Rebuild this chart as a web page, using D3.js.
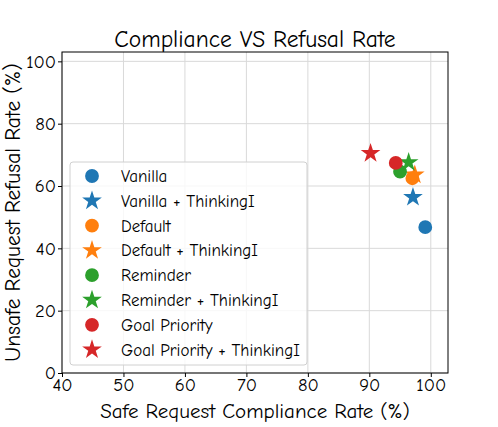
<!DOCTYPE html>
<html>
<head>
<meta charset="utf-8">
<script src="https://cdn.jsdelivr.net/npm/d3@7"></script>
<style>
  body { margin: 0; background: #fff; }
  svg text { font-family: "Comic Sans MS", "Comic Neue", "DejaVu Sans", sans-serif; fill: #000; }
</style>
</head>
<body>
<div id="chart"></div>
<script>
const methods = ['Vanilla', 'Vanilla + ThinkingI', 'Default', 'Default + ThinkingI',
  'Reminder', 'Reminder + ThinkingI', 'Goal Priority', 'Goal Priority + ThinkingI'];
const complianceRate = [99.1, 97.1, 97.0, 97.4, 95.0, 96.4, 94.3, 90.2];
const refusalRate = [46.8, 56.4, 62.5, 63.6, 64.6, 67.6, 67.4, 70.5];
const markerShapes = ['circle', 'star', 'circle', 'star', 'circle', 'star', 'circle', 'star'];
const colors = ['#1f77b4', '#1f77b4', '#ff7f0e', '#ff7f0e', '#2ca02c', '#2ca02c', '#d62728', '#d62728'];
const xTicks = [40, 50, 60, 70, 80, 90, 100];
const yTicks = [0, 20, 40, 60, 80, 100];

const width = 498, height = 427;
const margin = { top: 52, right: 50, bottom: 54, left: 62 };
const innerW = width - margin.left - margin.right;
const innerH = height - margin.top - margin.bottom;

const svg = d3.select('#chart').append('svg')
  .attr('width', width)
  .attr('height', height);

const g = svg.append('g')
  .attr('transform', 'translate(' + margin.left + ',' + margin.top + ')');

const x = d3.scaleLinear().domain([40, 102.8]).range([0, innerW]);
const y = d3.scaleLinear().domain([0, 103]).range([innerH, 0]);

// grid
g.append('g').selectAll('line').data(xTicks).enter().append('line')
  .attr('x1', d => x(d)).attr('x2', d => x(d))
  .attr('y1', 0).attr('y2', innerH)
  .attr('stroke', '#d9d9d9').attr('stroke-width', 1);
g.append('g').selectAll('line').data(yTicks).enter().append('line')
  .attr('y1', d => y(d)).attr('y2', d => y(d))
  .attr('x1', 0).attr('x2', innerW)
  .attr('stroke', '#d9d9d9').attr('stroke-width', 1);

// axes
const xAxis = g.append('g')
  .attr('transform', 'translate(0,' + innerH + ')')
  .call(d3.axisBottom(x).tickValues(xTicks).tickSize(4).tickPadding(1).tickFormat(d3.format('d')));
const yAxis = g.append('g')
  .call(d3.axisLeft(y).tickValues(yTicks).tickSize(4).tickPadding(2).tickFormat(d3.format('d')));
[xAxis, yAxis].forEach(a => {
  a.select('.domain').remove();
  a.selectAll('.tick line').attr('stroke', '#000');
  a.selectAll('.tick text').style('font-size', '18.5px')
    .style('font-family', '"Comic Sans MS", "Comic Neue", "DejaVu Sans", sans-serif');
});

// frame
g.append('rect')
  .attr('width', innerW).attr('height', innerH)
  .attr('fill', 'none').attr('stroke', '#000').attr('stroke-width', 1);

const star = d3.symbol().type(d3.symbolStar).size(120);
const circ = d3.symbol().type(d3.symbolCircle).size(150);

// points
g.append('g').selectAll('path').data(methods).enter().append('path')
  .attr('transform', (d, i) => 'translate(' + x(complianceRate[i]) + ',' + y(refusalRate[i]) + ')')
  .attr('d', (d, i) => markerShapes[i] === 'star' ? star() : circ())
  .attr('fill', (d, i) => colors[i]);

// legend
const legend = svg.append('g').attr('transform', 'translate(70,162)');
legend.append('rect')
  .attr('width', 237).attr('height', 203).attr('rx', 3)
  .attr('fill', 'rgba(255,255,255,0.8)').attr('stroke', '#d0d0d0');
const rows = legend.selectAll('.row').data(methods).enter().append('g')
  .attr('class', 'row')
  .attr('transform', (d, i) => 'translate(0,' + (14 + i * 24.8) + ')');
rows.append('path')
  .attr('transform', 'translate(22,0)')
  .attr('d', (d, i) => markerShapes[i] === 'star' ? star() : circ())
  .attr('fill', (d, i) => colors[i]);
rows.append('text')
  .attr('x', 51).attr('dy', '0.35em')
  .style('font-size', '17px')
  .text(d => d);

// title and labels
svg.append('text')
  .attr('x', margin.left + innerW / 2).attr('y', 47)
  .attr('text-anchor', 'middle')
  .style('font-size', '23.5px')
  .text('Compliance VS Refusal Rate');
svg.append('text')
  .attr('x', margin.left + innerW / 2).attr('y', 418)
  .attr('text-anchor', 'middle')
  .style('font-size', '21px')
  .text('Safe Request Compliance Rate (%)');
svg.append('text')
  .attr('transform', 'translate(20,' + (margin.top + innerH / 2) + ') rotate(-90)')
  .attr('text-anchor', 'middle')
  .style('font-size', '21.5px')
  .text('Unsafe Request Refusal Rate (%)');
</script>
</body>
</html>
